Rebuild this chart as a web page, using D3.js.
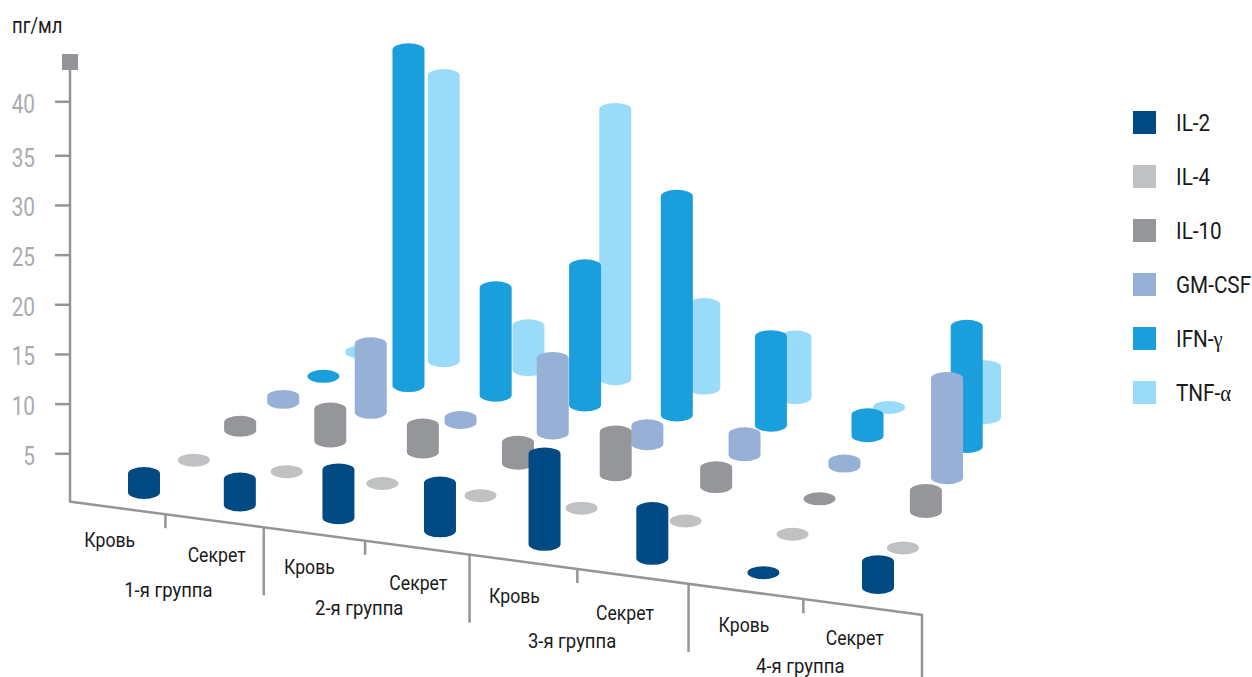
<!DOCTYPE html>
<html lang="ru">
<head>
<meta charset="utf-8">
<title>Цитокины</title>
<script src="https://cdn.jsdelivr.net/npm/d3@7/dist/d3.min.js"></script>
<style>
html,body{margin:0;padding:0;background:#fff}
svg{display:block}
text{font-family:Roboto,"Liberation Sans",sans-serif}
</style>
</head>
<body>
<svg id="chart" width="1252" height="677"></svg>
<script>
// ---- data ----
const samples = ["Кровь","Секрет","Кровь","Секрет","Кровь","Секрет","Кровь","Секрет"];
const groups = ["1-я группа","2-я группа","3-я группа","4-я группа"];
const seriesNames = ["IL-2","IL-4","IL-10","GM-CSF","IFN-γ","TNF-α"];
const yTicks = [5,10,15,20,25,30,35,40];
const il2   = [1.9,2.6,4.8,4.8,9.1,5.0,0,2.6];
const il4   = [0,0,0,0,0,0,0,0];
const il10  = [0.8,3.2,2.7,2.1,4.3,1.9,0,2.1];
const gmcsf = [0.6,6.9,0.5,7.5,1.8,2.1,0.5,10];
const ifng  = [0,33.8,10.8,14,22,8.9,2.1,12.1];
const tnfa  = [0,28.7,4.4,27.1,8.4,6.1,0,5.1];
const seriesValues = [il2,il4,il10,gmcsf,ifng,tnfa];
const colors = ["#024a84","#c0c1c3","#95969a","#97b0d6","#1a9fdc","#9adbfa"];

// ---- layout ----
const svg = d3.select("#chart");
const axisColor = "#939598", axisWidth = 2.5;
const y = d3.scaleLinear().domain([0,5,35,40]).range([503,453.3,155.3,101.3]);
const R = 16, RY = 6.5;

// floor plane: projective map of (sample index, series index) onto the page
const corners = [[144,492.5],[878,587.5],[985,417.5],[361,352]];
function makeFloor(p){
  const [[x0,y0],[x1,y1],[x2,y2],[x3,y3]] = p;
  const dx1=x1-x2, dx2=x3-x2, sx=x0-x1+x2-x3;
  const dy1=y1-y2, dy2=y3-y2, sy=y0-y1+y2-y3;
  const den=dx1*dy2-dx2*dy1;
  const g=(sx*dy2-dx2*sy)/den, h=(dx1*sy-sx*dy1)/den;
  const a=x1-x0+g*x1, b=x3-x0+h*x3, d=y1-y0+g*y1, e=y3-y0+h*y3;
  return (s,t)=>{const w=g*s+h*t+1; return [(a*s+b*t+x0)/w,(d*s+e*t+y0)/w];};
}
const floor = makeFloor(corners);
const uScale = d3.scaleLinear().domain([0,samples.length-1]).range([0,1]);
const vScale = d3.scaleLinear().domain([0,seriesNames.length-1]).range([0,1]);

// front edge of the floor: same foreshortening, boundaries between samples
const ax0=[70,501.5], ax1=[922,615], persp=-0.1168;
const edgeT = d3.scaleLinear().domain([0,samples.length]).range([0,1]);
const edgeF = i => {const t=edgeT(i); return (1+persp)*t/(1+persp*t);};
const edgeX = d3.scaleLinear().domain([0,1]).range([ax0[0],ax1[0]]);
const edgeY = d3.scaleLinear().domain([0,1]).range([ax0[1],ax1[1]]);
const edgeAt = i => [edgeX(edgeF(i)),edgeY(edgeF(i))];
const yOnEdge = d3.scaleLinear().domain([ax0[0],ax1[0]]).range([ax0[1],ax1[1]]);

// ---- cylinders, back row first ----
function cylinder(cx,base,h){
  const top=base-h;
  return `M${cx-R},${top}A${R},${RY} 0 0 1 ${cx+R},${top}L${cx+R},${base}A${R},${RY} 0 0 1 ${cx-R},${base}`+
         (h===0?`A${R},${RY} 0 0 1 ${cx+R},${base}`:"")+"Z";
}
const gBars = svg.append("g");
d3.range(seriesNames.length-1,-1,-1).forEach(si=>{
  gBars.append("g").selectAll("path")
    .data(seriesValues[si])
    .join("path")
    .attr("fill",colors[si])
    .attr("d",(v,i)=>{
      const [cx,cy]=floor(uScale(i),vScale(si));
      return cylinder(cx,cy,y(0)-y(v));
    });
});

// ---- y axis ----
const gy = svg.append("g").attr("transform","translate(70,0)")
  .call(d3.axisLeft(y).tickValues(yTicks).tickSize(15).tickPadding(20));
gy.select(".domain").remove();
gy.selectAll(".tick line").attr("stroke",axisColor).attr("stroke-width",axisWidth);
gy.selectAll(".tick text").attr("fill","#a9abae").attr("font-size",26)
  .attr("x",0).attr("dy",null).attr("transform","translate(-35,11) scale(0.8,1)")
  .style("font-family","Roboto,sans-serif");
svg.append("line").attr("x1",70).attr("x2",70).attr("y1",66).attr("y2",ax0[1])
  .attr("stroke",axisColor).attr("stroke-width",axisWidth);
svg.append("rect").attr("x",62).attr("y",54).attr("width",16).attr("height",16).attr("fill",axisColor);
svg.append("text").attr("font-size",22).attr("fill","#1a1a1a")
  .attr("transform","translate(12,33) scale(0.84,1)").text("пг/мл");

// ---- floor edge and separators ----
svg.append("line").attr("x1",ax0[0]-1).attr("y1",ax0[1]).attr("x2",ax1[0]+1).attr("y2",ax1[1])
  .attr("stroke",axisColor).attr("stroke-width",axisWidth);
const sepDrop = [14,68,14,68,14,68,14,62];
svg.append("g").selectAll("line").data(d3.range(1,samples.length+1)).join("line")
  .attr("x1",i=>edgeAt(i)[0]).attr("x2",i=>edgeAt(i)[0])
  .attr("y1",i=>edgeAt(i)[1]).attr("y2",i=>edgeAt(i)[1]+sepDrop[i-1])
  .attr("stroke",axisColor).attr("stroke-width",axisWidth);

// ---- sample and group labels ----
const sampleDx = [-8,2,-5,1,-9,-8,-2,-8];
const sampleDy = [40,41,41,42,42,45,41,39];
svg.append("g").selectAll("text").data(samples).join("text")
  .attr("text-anchor","middle").attr("font-size",21).attr("fill","#1a1a1a")
  .attr("transform",(d,i)=>{
    const x=(edgeAt(i)[0]+edgeAt(i+1)[0])/2+sampleDx[i];
    return `translate(${x},${yOnEdge(x)+sampleDy[i]}) scale(0.84,1)`;
  })
  .text(d=>d);
const groupDx = [1.5,-7.5,-7,-5];
const groupDy = [82,75,80,74];
svg.append("g").selectAll("text").data(groups).join("text")
  .attr("text-anchor","middle").attr("font-size",21).attr("fill","#1a1a1a")
  .attr("transform",(d,i)=>{
    const x=(edgeAt(2*i)[0]+edgeAt(2*i+2)[0])/2+groupDx[i];
    return `translate(${x},${yOnEdge(x)+groupDy[i]}) scale(0.88,1)`;
  })
  .text(d=>d);

// ---- legend ----
const legendY = d3.scalePoint().domain(seriesNames).range([111,381]);
const gl = svg.append("g").selectAll("g").data(seriesNames).join("g")
  .attr("transform",d=>`translate(1133,${legendY(d)})`);
gl.append("rect").attr("width",23).attr("height",23).attr("fill",(d,i)=>colors[i]);
const lt = gl.append("text").attr("font-size",23).attr("fill","#1a1a1a")
  .attr("transform","translate(43,20) scale(0.9,1)");
lt.append("tspan").text(d=>d.replace(/[γα]/,""));
lt.append("tspan").style("font-family",'"Liberation Serif",serif').text(d=>(d.match(/[γα]/)||[""])[0]);
</script>
</body>
</html>
